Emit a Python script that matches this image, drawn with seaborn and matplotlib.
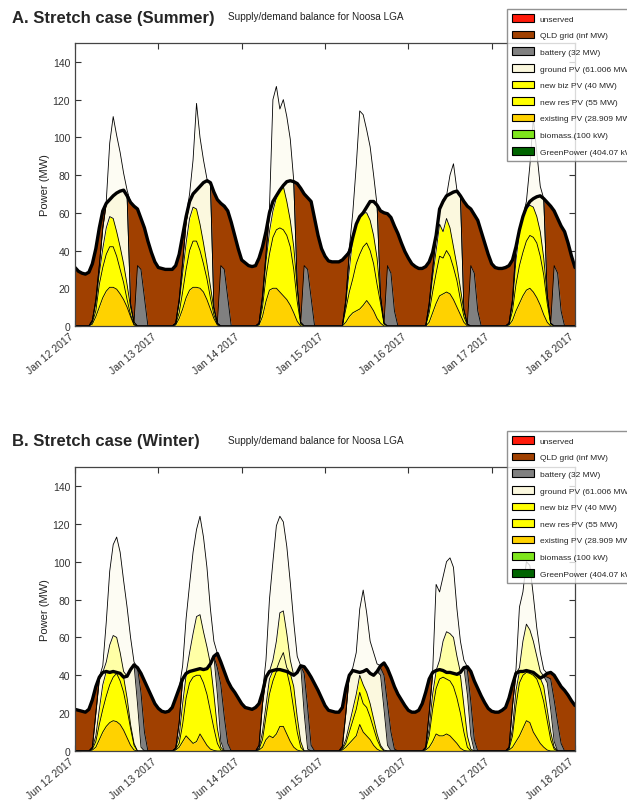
import numpy as np
import pandas as pd
import matplotlib
matplotlib.use("Agg")
import matplotlib.pyplot as plt
import matplotlib.dates as mdates
from matplotlib.patches import Patch
import seaborn as sns

# Hourly values in MW, midnight to midnight over six days (145 points each)

# ---- A. Summer week, Jan 12 - Jan 18 2017 ----
summer_demand = [
    31, 29, 28, 27.5, 28.5, 33, 41, 52, 61, 65, 67, 69, 70.5, 71.5, 72, 69, 65.5, 63.5, 62, 57, 52, 45, 39, 34,
    31, 30.5, 30, 30, 30, 32, 38, 48, 58, 66, 70, 72, 74, 76, 77, 76, 71, 67, 65, 63.5, 61, 55, 48, 41,
    35, 33.5, 32, 31.5, 32, 36, 42, 50, 60, 66, 69, 72, 74.5, 76.5, 77, 76.5, 75.5, 73, 70, 68, 66, 57, 48, 41,
    37, 34.5, 34, 34, 34, 35, 37, 39, 47, 54, 58, 60, 63, 66, 66, 64, 61, 60, 59.5, 57.5, 53, 49, 44, 39.5,
    36, 33, 31.5, 30.5, 30.5, 31.5, 34, 39, 48, 62, 66, 69, 70, 71, 71.5, 69, 66, 63.5, 62, 59, 56, 50, 44, 38,
    33, 31, 30.5, 30.5, 31, 32, 35, 42, 51, 58, 63, 66, 67.5, 68.5, 69, 67.5, 65.5, 63.5, 61, 57, 53, 50, 44, 37,
    31,
]
summer_existing_pv = [
    0, 0, 0, 0, 0, 1, 5, 10, 15, 18.5, 20.5, 20.5, 19.5, 17, 14, 10, 5, 0.5, 0, 0, 0, 0, 0, 0,
    0, 0, 0, 0, 0, 0.5, 4, 9, 15, 19, 20.5, 20.5, 20, 18, 14, 9, 4, 0.5, 0, 0, 0, 0, 0, 0,
    0, 0, 0, 0, 0, 0.5, 5, 13, 19, 20, 20, 18, 16, 14, 11, 7, 2.5, 0, 0, 0, 0, 0, 0, 0,
    0, 0, 0, 0, 0, 0, 2, 5, 7, 8, 9, 11, 13.5, 11, 8, 4, 1.5, 0, 0, 0, 0, 0, 0, 0,
    0, 0, 0, 0, 0, 0, 2, 7, 12, 16, 17, 18, 17, 14, 10, 6, 2, 0, 0, 0, 0, 0, 0, 0,
    0, 0, 0, 0, 0, 0.5, 3, 8, 12, 16, 19, 20, 18, 15, 11, 6, 2, 0, 0, 0, 0, 0, 0, 0,
    0,
]
summer_res_pv = [
    0, 0, 0, 0, 0, 1, 3, 12, 16, 19.5, 21.5, 21.5, 17.5, 13, 9, 4, 1, 0.5, 0, 0, 0, 0, 0, 0,
    0, 0, 0, 0, 0, 0.5, 3, 9, 15, 21, 24.5, 24.5, 20, 15, 11, 6, 2, 0.5, 0, 0, 0, 0, 0, 0,
    0, 0, 0, 0, 0, 0.5, 5, 13, 19, 27, 31, 34, 35, 34, 31, 23, 10.5, 1, 0, 0, 0, 0, 0, 0,
    0, 0, 0, 0, 0, 0, 7, 13, 18, 25, 29, 31, 30.5, 29, 25, 18, 10.5, 1, 0, 0, 0, 0, 0, 0,
    0, 0, 0, 0, 0, 0, 5, 11, 16, 21, 19, 22, 20, 17, 14, 8, 3, 0.5, 0, 0, 0, 0, 0, 0,
    0, 0, 0, 0, 0, 0.5, 5, 14, 20, 23, 26, 28, 29, 29, 26, 21, 10, 1, 0, 0, 0, 0, 0, 0,
    0,
]
summer_biz_pv = [
    0, 0, 0, 0, 0, 1, 4, 6, 10, 14, 16, 15, 13, 12, 10, 8, 4, 1, 0, 0, 0, 0, 0, 0,
    0, 0, 0, 0, 0, 0.5, 5, 10, 14, 17, 18, 17, 14, 11, 8, 6, 3, 0.5, 0, 0, 0, 0, 0, 0,
    0, 0, 0, 0, 0, 0.5, 4, 8, 12, 14, 17, 20, 23, 18, 14, 12, 7, 1, 0, 0, 0, 0, 0, 0,
    0, 0, 0, 0, 0, 0, 3, 12, 22, 21, 20, 18, 16, 16, 15, 14, 3, 0.5, 0, 0, 0, 0, 0, 0,
    0, 0, 0, 0, 0, 0, 3, 8, 12, 17, 14, 17, 15, 11, 8, 6, 3, 0.5, 0, 0, 0, 0, 0, 0,
    0, 0, 0, 0, 0, 0.5, 4, 13, 18, 18, 17, 16, 16, 14, 13, 9, 4, 0.5, 0, 0, 0, 0, 0, 0,
    0,
]
summer_ground_pv = [
    0, 0, 0, 0, 0, 0, 2, 4, 11, 13, 9, 12, 20.5, 29.5, 39, 47, 2, 0, 0, 0, 0, 0, 0, 0,
    0, 0, 0, 0, 0, 0, 2, 6, 11, 9, 7, 10, 20, 32, 44, 55, 1, 0, 0, 0, 0, 0, 0, 0,
    0, 0, 0, 0, 0, 0, 2, 4, 10, 5, 1, 0, 0.5, 10.5, 21, 34.5, 2, 0, 0, 0, 0, 0, 0, 0,
    0, 0, 0, 0, 0, 0, 2, 9, 0, 0, 0, 0, 3, 10, 18, 28, 1, 0, 0, 0, 0, 0, 0, 0,
    0, 0, 0, 0, 0, 0, 2, 4, 8, 8, 16, 12, 18, 29, 39.5, 49, 1, 0, 0, 0, 0, 0, 0, 0,
    0, 0, 0, 0, 0, 0, 2, 7, 1, 1, 1, 2, 4.5, 10.5, 19, 31.5, 1, 0, 0, 0, 0, 0, 0, 0,
    0,
]
summer_battery = [
    0, 0, 0, 0, 0, 0, 0, 0, 0, 0, 0, 0, 0, 0, 0, 0, 0, 0, 32, 30, 15, 0, 0, 0,
    0, 0, 0, 0, 0, 0, 0, 0, 0, 0, 0, 0, 0, 0, 0, 0, 0, 0, 32, 30, 15, 0, 0, 0,
    0, 0, 0, 0, 0, 0, 0, 0, 0, 0, 0, 0, 0, 0, 0, 0, 0, 0, 32, 30, 15, 0, 0, 0,
    0, 0, 0, 0, 0, 0, 0, 0, 0, 0, 0, 0, 0, 0, 0, 0, 0, 0, 32, 28, 8, 0, 0, 0,
    0, 0, 0, 0, 0, 0, 0, 0, 0, 0, 0, 0, 0, 0, 0, 0, 0, 0, 32, 28, 8, 0, 0, 0,
    0, 0, 0, 0, 0, 0, 0, 0, 0, 0, 0, 0, 0, 0, 0, 0, 0, 0, 32, 28, 8, 0, 0, 0,
    0,
]
summer_ground_spill = [
    0, 0, 0, 0, 0, 0, 0, 0, 0, 1, 30, 42, 30.5, 20.5, 9, 3, 0, 0, 0, 0, 0, 0, 0, 0,
    0, 0, 0, 0, 0, 0, 0, 0, 0, 4, 18, 46, 26, 12, 1, 0, 0, 0, 0, 0, 0, 0, 0, 0,
    0, 0, 0, 0, 0, 0, 0, 0, 2, 54, 58, 43, 45.5, 34.5, 22, 0.5, 0, 0, 0, 0, 0, 0, 0, 0,
    0, 0, 0, 0, 0, 0, 0, 2, 13, 31, 56, 52, 41, 29, 14, 0, 0, 0, 0, 0, 0, 0, 0, 0,
    0, 0, 0, 0, 0, 0, 0, 0, 0, 0, 1, 0, 10, 15, 0.5, 0, 0, 0, 0, 0, 0, 0, 0, 0,
    0, 0, 0, 0, 0, 0, 0, 0, 0, 0, 3, 19, 42.5, 23.5, 5, 0, 0, 0, 0, 0, 0, 0, 0, 0,
    0,
]

# ---- B. Winter week, Jun 12 - Jun 18 2017 ----
winter_demand = [
    22, 21.5, 21, 20.5, 22, 27, 34, 39, 41.5, 42, 41.5, 42, 41.5, 41, 39, 39.5, 43, 45.5, 44, 41, 37, 33, 29, 25,
    22.5, 21, 20.5, 21, 23, 28, 33, 38, 41, 42, 42.5, 43, 43.5, 43, 43.5, 46, 50, 51.5, 47, 42, 37, 33.5, 31, 28,
    25, 23, 22.5, 22, 23, 25, 31, 39, 42, 42.5, 43, 43, 42.5, 42, 41, 40, 41.5, 45, 44.5, 42, 39, 35.5, 32, 28,
    24, 21.5, 21, 20.5, 20.5, 23, 33, 40, 42.5, 42, 41.5, 42, 43, 41, 40, 42, 45, 46.5, 43.5, 39, 34, 30, 27, 24,
    21.5, 20.5, 20.5, 21.5, 25, 31, 38, 41.5, 42.5, 43, 42.5, 41.5, 41.5, 41, 40.5, 41.5, 44, 44.5, 42, 37, 33, 29, 25.5, 22.5,
    21, 20.5, 20.5, 21.5, 23, 28, 35, 41, 42, 42, 42.5, 42, 41.5, 40, 38.5, 39.5, 41, 41.5, 40, 37, 34, 32, 29.5, 26.5,
    24,
]
winter_existing_pv = [
    0, 0, 0, 0, 0, 0.5, 2, 6, 10, 13, 15, 16, 15.5, 14, 11, 7, 3, 0.5, 0, 0, 0, 0, 0, 0,
    0, 0, 0, 0, 0, 0.5, 2, 5, 8, 6, 4, 5, 9, 6, 3, 1, 0.3, 0, 0, 0, 0, 0, 0, 0,
    0, 0, 0, 0, 0, 0.5, 2, 6, 8, 7, 9, 13, 13, 9, 5, 2, 0.5, 0, 0, 0, 0, 0, 0, 0,
    0, 0, 0, 0, 0, 0.5, 2, 4, 6, 8, 14, 10, 8, 6, 3, 1, 0, 0, 0, 0, 0, 0, 0, 0,
    0, 0, 0, 0, 0, 0.5, 2, 5, 9, 8, 8, 9, 8, 6, 4, 1.5, 0.3, 0, 0, 0, 0, 0, 0, 0,
    0, 0, 0, 0, 0, 0.5, 2, 5, 8, 12, 16, 15, 10, 7, 4, 2, 0.5, 0, 0, 0, 0, 0, 0, 0,
    0,
]
winter_res_pv = [
    0, 0, 0, 0, 0, 0.5, 3, 8, 12, 16, 20, 23, 25.5, 23, 20, 15, 9, 2.5, 0, 0, 0, 0, 0, 0,
    0, 0, 0, 0, 0, 0.5, 2, 9, 20, 30, 35, 35, 31, 30, 27, 20, 11.7, 4, 0.5, 0, 0, 0, 0, 0,
    0, 0, 0, 0, 0, 0.5, 4, 12, 22, 30, 33, 30, 29.5, 33, 29, 20, 9.5, 2, 0, 0, 0, 0, 0, 0,
    0, 0, 0, 0, 0, 0.5, 2, 6, 10, 14, 17, 15, 15, 12, 9, 5, 2, 0, 0, 0, 0, 0, 0, 0,
    0, 0, 0, 0, 0, 0.5, 6, 17, 24, 30, 31, 29, 29, 28, 24, 18.5, 9.7, 2, 0, 0, 0, 0, 0, 0,
    0, 0, 0, 0, 0, 0.5, 6, 19, 28, 28, 25.5, 26, 30, 31, 29, 24, 15.5, 6, 1, 0, 0, 0, 0, 0,
    0,
]
winter_biz_pv = [
    0, 0, 0, 0, 0, 0.5, 3, 8, 13, 13, 6.5, 3, 0.5, 4, 8, 6, 2, 1, 0, 0, 0, 0, 0, 0,
    0, 0, 0, 0, 0, 0.5, 4, 11, 12, 6, 3.5, 3, 3.5, 7, 13.5, 25, 18, 8, 1.5, 0, 0, 0, 0, 0,
    0, 0, 0, 0, 0, 0.5, 4, 6, 8, 5.5, 1, 0, 0, 0, 7, 12, 8, 3, 0, 0, 0, 0, 0, 0,
    0, 0, 0, 0, 0, 0.5, 2, 4, 6, 8, 9, 10, 8, 7, 5, 3, 1, 0.5, 0, 0, 0, 0, 0, 0,
    0, 0, 0, 0, 0, 0.5, 4, 8, 9, 5, 3.5, 3.5, 4.5, 7, 12.5, 20, 14, 6, 1, 0, 0, 0, 0, 0,
    0, 0, 0, 0, 0, 0.5, 4, 8, 6, 2, 1, 1, 1.5, 2, 5.5, 8, 6, 4, 1, 0, 0, 0, 0, 0,
    0,
]
winter_ground_pv = [
    0, 0, 0, 0, 0, 0.5, 12, 16, 6.5, 0, 0, 0, 0, 0, 0, 11.5, 29, 41.5, 25, 2, 0, 0, 0, 0,
    0, 0, 0, 0, 0, 0, 7, 13, 1, 0, 0, 0, 0, 0, 0, 0, 20, 18, 3, 0, 0, 0, 0, 0,
    0, 0, 0, 0, 0, 1.5, 15, 15, 4, 0, 0, 0, 0, 0, 0, 6, 23.5, 40, 20, 1, 0, 0, 0, 0,
    0, 0, 0, 0, 0, 1, 14, 26, 20.5, 12, 1.5, 7, 12, 16, 23, 33, 37, 21.5, 3, 0, 0, 0, 0, 0,
    0, 0, 0, 0, 0, 0.5, 8, 11, 0.5, 0, 0, 0, 0, 0, 0, 1.5, 20, 22, 7, 0, 0, 0, 0, 0,
    0, 0, 0, 0, 0, 0.5, 12, 9, 0, 0, 0, 0, 0, 0, 0, 5.5, 14, 12, 3, 0, 0, 0, 0, 0,
    0,
]
winter_battery = [
    0, 0, 0, 0, 0, 0, 0, 0, 0, 0, 0, 0, 0, 0, 0, 0, 0, 0, 19, 29, 10, 0, 0, 0,
    0, 0, 0, 0, 0, 0, 0, 0, 0, 0, 0, 0, 0, 0, 0, 0, 0, 14, 30, 18, 4, 0, 0, 0,
    0, 0, 0, 0, 0, 0, 0, 0, 0, 0, 0, 0, 0, 0, 0, 0, 0, 0, 21, 22, 3, 0, 0, 0,
    0, 0, 0, 0, 0, 0, 0, 0, 0, 0, 0, 0, 0, 0, 0, 0, 4, 18, 22, 10, 1, 0, 0, 0,
    0, 0, 0, 0, 0, 0, 0, 0, 0, 0, 0, 0, 0, 0, 0, 0, 0, 13, 18, 6, 0, 0, 0, 0,
    0, 0, 0, 0, 0, 0, 0, 0, 0, 0, 0, 0, 0, 0, 0, 0, 3, 16, 22, 15, 4, 0, 0, 0,
    0,
]
winter_res_spill = [
    0, 0, 0, 0, 0, 0, 0, 0, 0, 0, 0, 0, 0, 0, 0, 0, 0, 0, 0, 0, 0, 0, 0, 0,
    0, 0, 0, 0, 0, 0, 0, 0, 0, 0, 0, 0, 0, 0, 0, 0, 0, 0, 0, 0, 0, 0, 0, 0,
    0, 0, 0, 0, 0, 0, 0, 0, 0, 0, 0, 5, 9.5, 2, 0, 0, 0, 0, 0, 0, 0, 0, 0, 0,
    0, 0, 0, 0, 0, 0, 0, 0, 0, 0, 0, 0, 0, 0, 0, 0, 0, 0, 0, 0, 0, 0, 0, 0,
    0, 0, 0, 0, 0, 0, 0, 0, 0, 0, 0, 0, 0, 0, 0, 0, 0, 0, 0, 0, 0, 0, 0, 0,
    0, 0, 0, 0, 0, 0, 0, 0, 0, 0, 0, 0, 0, 0, 0, 0, 0, 0, 0, 0, 0, 0, 0, 0,
    0,
]
winter_biz_spill = [
    0, 0, 0, 0, 0, 0, 0, 0, 0, 5, 14.5, 19, 18.5, 11, 3, 0, 0, 0, 0, 0, 0, 0, 0, 0,
    0, 0, 0, 0, 0, 0, 0, 0, 0, 10, 19.5, 28, 28.5, 20, 11.5, 0, 0, 0, 0, 0, 0, 0, 0, 0,
    0, 0, 0, 0, 0, 0, 0, 0, 0, 5.5, 15, 25, 22, 18, 7, 0, 0, 0, 0, 0, 0, 0, 0, 0,
    0, 0, 0, 0, 0, 0, 0, 0, 0, 0, 0, 0, 0, 0, 0, 0, 0, 0, 0, 0, 0, 0, 0, 0,
    0, 0, 0, 0, 0, 0, 0, 0, 0, 5, 15.5, 21.5, 20.5, 19, 9.5, 0, 0, 0, 0, 0, 0, 0, 0, 0,
    0, 0, 0, 0, 0, 0, 0, 0, 2, 16, 24.5, 22, 16.5, 10, 3.5, 0, 0, 0, 0, 0, 0, 0, 0, 0,
    0,
]
winter_ground_spill = [
    0, 0, 0, 0, 0, 0, 0, 0, 3.5, 21, 39, 48, 53, 53, 48, 36.5, 17, 1.5, 0, 0, 0, 0, 0, 0,
    0, 0, 0, 0, 0, 0, 0, 7, 29, 36, 43, 46, 52, 50, 42, 29, 8, 0, 0, 0, 0, 0, 0, 0,
    0, 0, 0, 0, 0, 0, 0, 9, 38, 52, 61, 51, 47, 46, 41, 28, 8.5, 0, 0, 0, 0, 0, 0, 0,
    0, 0, 0, 0, 0, 0, 0, 0, 1.5, 10, 33.5, 43, 30, 17, 12, 4, 0, 0, 0, 0, 0, 0, 0, 0,
    0, 0, 0, 0, 0, 0, 0, 0, 45.5, 36, 34, 37, 40, 37, 25, 16.5, 4, 0, 0, 0, 0, 0, 0, 0,
    0, 0, 0, 0, 0, 0, 0, 2, 32, 26, 33, 34, 24, 15, 10, 3.5, 0, 0, 0, 0, 0, 0, 0, 0,
    0,
]

legend_labels = ["unserved", "QLD grid (inf MW)", "battery (32 MW)", "ground PV (61.006 MW)",
                 "new biz PV (40 MW)", "new res PV (55 MW)", "existing PV (28.909 MW)",
                 "biomass (100 kW)", "GreenPower (404.07 kW)"]
legend_colors = ["#ff1a0a", "#a04000", "#808080", "#fbf8de", "#ffff00", "#ffff00",
                 "#ffd200", "#7ee51c", "#006400"]

colors = {"existing": "#ffd200", "res": "#ffff00", "biz": "#ffff00", "ground": "#fbf8de",
          "battery": "#808080", "grid": "#a04000"}

sns.set_style("ticks", {"xtick.direction": "in", "ytick.direction": "in",
                        "xtick.top": True, "ytick.right": True,
                        "axes.edgecolor": "#444444"})
plt.rcParams["font.family"] = ["Liberation Sans", "DejaVu Sans"]

fig = plt.figure(figsize=(6.27, 8.04), dpi=100)


def draw_balance(ax, start, demand, used, spilled):
    times = pd.date_range(start, periods=len(demand), freq="h")
    demand = np.asarray(demand, dtype=float)
    supply = sum(np.asarray(v, dtype=float) for _, v in used)
    grid = np.clip(demand - supply, 0, None)
    base = np.zeros(len(times))
    for name, vals in used + [("grid", grid)]:
        top = base + np.asarray(vals, dtype=float)
        ax.fill_between(times, base, top, facecolor=colors[name], lw=0)
        ax.plot(times, top, color="black", lw=0.6)
        base = top
    # spilled energy stacked above demand, drawn faded
    for name, vals in spilled:
        top = base + np.asarray(vals, dtype=float)
        ax.fill_between(times, base, top, facecolor=colors[name], alpha=0.35, lw=0)
        ax.plot(times, top, color="black", lw=0.6)
        base = top
    sns.lineplot(x=times, y=demand, color="black", lw=2.4, ax=ax)

    ax.set_xlim(times[0], times[-1])
    ax.set_ylim(0, 150)
    ax.set_yticks(range(0, 141, 20))
    ax.xaxis.set_major_locator(mdates.DayLocator())
    ax.xaxis.set_major_formatter(mdates.DateFormatter("%b %d %Y"))
    ax.tick_params(axis="both", direction="in", top=True, right=True, labelsize=7.5,
                   colors="#333333", length=4, width=0.8)
    for lab in ax.get_xticklabels():
        lab.set_rotation(40)
        lab.set_ha("right")
    ax.set_xlabel("")
    ax.set_ylabel("Power (MW)", fontsize=8, color="#222222")
    ax.yaxis.set_label_coords(-0.05, 0.5)
    for sp in ax.spines.values():
        sp.set_linewidth(0.9)


def add_legend(ax, top):
    handles = [Patch(facecolor=c, edgecolor="black", lw=0.8) for c in legend_colors]
    ax.legend(handles, legend_labels, loc="upper left", bbox_to_anchor=(507 / 627, top),
              bbox_transform=fig.transFigure, borderaxespad=0, fontsize=6.0,
              handlelength=2.6, handleheight=1.05, labelspacing=0.95, borderpad=0.6,
              handletextpad=0.7, fancybox=False, framealpha=0.8, edgecolor="#777777")


ax1 = fig.add_axes([75 / 627, 1 - 327 / 804, 500 / 627, 283 / 804])
draw_balance(ax1, "2017-01-12", summer_demand,
             [("existing", summer_existing_pv), ("res", summer_res_pv), ("biz", summer_biz_pv),
              ("ground", summer_ground_pv), ("battery", summer_battery)],
             [("ground", summer_ground_spill)])
add_legend(ax1, 1 - 10 / 804)

ax2 = fig.add_axes([75 / 627, 1 - 752 / 804, 500 / 627, 284 / 804])
draw_balance(ax2, "2017-06-12", winter_demand,
             [("existing", winter_existing_pv), ("res", winter_res_pv), ("biz", winter_biz_pv),
              ("ground", winter_ground_pv), ("battery", winter_battery)],
             [("res", winter_res_spill), ("biz", winter_biz_spill), ("ground", winter_ground_spill)])
add_legend(ax2, 1 - 432 / 804)

for ypix, head in [(18, "A. Stretch case (Summer)"), (442, "B. Stretch case (Winter)")]:
    fig.text(12 / 627, 1 - ypix / 804, head, ha="left", va="center", fontsize=12,
             fontweight="bold")
    fig.text(316 / 627, 1 - (ypix - 1) / 804, "Supply/demand balance for Noosa LGA",
             ha="center", va="center", fontsize=7.2, color="#222222")

fig.savefig("out.png", dpi=100)
